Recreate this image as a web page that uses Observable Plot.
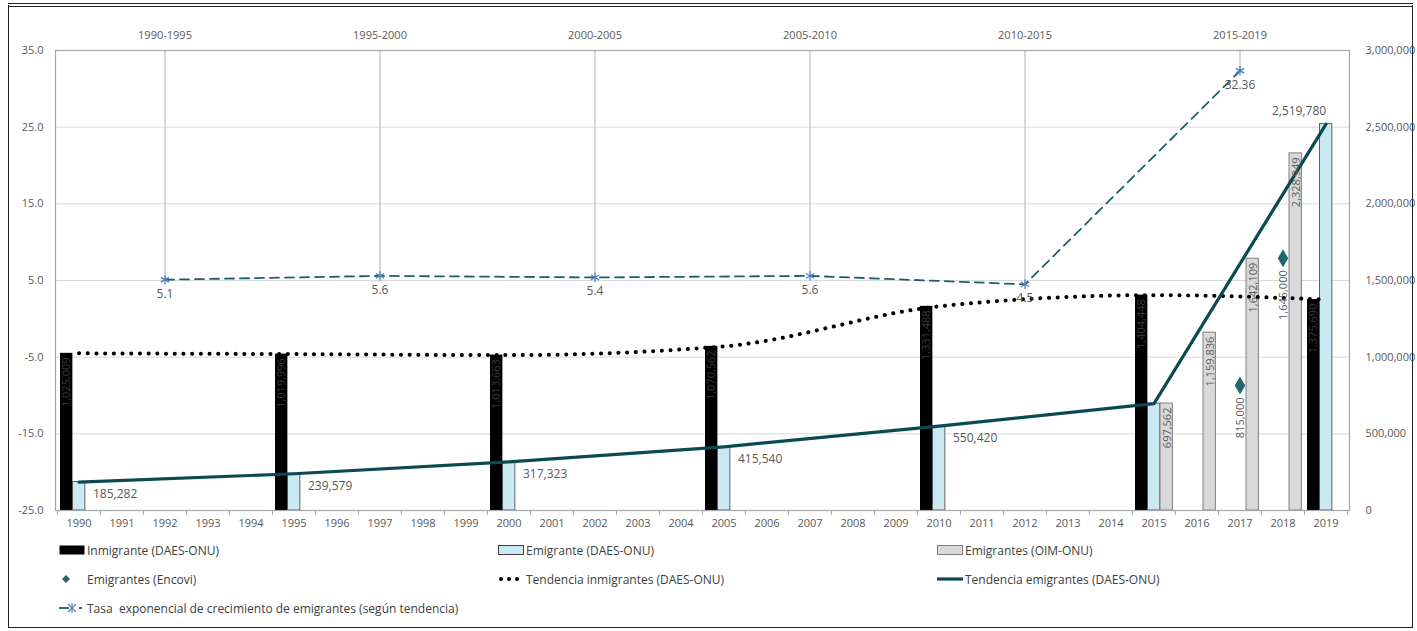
<!DOCTYPE html>
<html><head><meta charset="utf-8">
<script src="https://cdn.jsdelivr.net/npm/d3@7"></script>
<script src="https://cdn.jsdelivr.net/npm/@observablehq/plot@0.6"></script>
<style>
body{margin:0;background:#fff;font-family:"Open Sans",sans-serif;}
#wrap{position:relative;width:1417px;height:631px;overflow:hidden;background:#fff;}
#frame{position:absolute;left:8px;top:3px;width:1405px;height:625px;border:1.5px solid #222;border-top:4px double #222;box-sizing:border-box;pointer-events:none;}
#chart{position:absolute;left:0;top:0;}
.lg{position:absolute;font-size:12px;color:#404040;display:flex;align-items:center;white-space:nowrap;height:16px;}
.sw{display:inline-block;margin-right:2px;}
</style></head>
<body><div id="wrap"><div id="chart"></div><div id="legend"></div><div id="frame"></div></div>
<script>
// ---- data ----
const years = [1990,1991,1992,1993,1994,1995,1996,1997,1998,1999,2000,2001,2002,2003,2004,2005,2006,2007,2008,2009,2010,2011,2012,2013,2014,2015,2016,2017,2018,2019];
const inmYears = [1990,1995,2000,2005,2010,2015,2019];
const inmigrantes = [1025009,1019996,1013663,1070562,1331488,1404448,1375690];
const emiYears = [1990,1995,2000,2005,2010,2015,2019];
const emigrantes = [185282,239579,317323,415540,550420,697562,2519780];
const oimYears = [2015,2016,2017,2018];
const oim = [697562,1159836,1642109,2328949];
const encoviYears = [2017,2018];
const encovi = [815000,1645000];
const rateYears = [1992,1997,2002,2007,2012,2017];
const periods = ["1990-1995","1995-2000","2000-2005","2005-2010","2010-2015","2015-2019"];
const rates = [5.1,5.6,5.4,5.6,4.5,32.36];
const leftTicks = [-25,-15,-5,5,15,25,35];
const rightTickLabels = ["0","500,000","1,000,000","1,500,000","2,000,000","2,500,000","3,000,000"];
const legendItems = [
  ["Inmigrante (DAES-ONU)","Emigrante (DAES-ONU)","Emigrantes (OIM-ONU)"],
  ["Emigrantes (Encovi)","Tendencia inmigrantes (DAES-ONU)","Tendencia emigrantes (DAES-ONU)"],
  ["Tasa  exponencial de crecimiento de emigrantes (según tendencia)"]
];

// secondary (population) axis mapped onto the left (rate) scale
const POP_MAX = 3000000, L0 = -25, L1 = 35;
const toLeft = p => L0 + p / POP_MAX * (L1 - L0);
const fmt = d3.format(",");

const inm = inmYears.map((y,i)=>({year:y, v:inmigrantes[i]}));
const emi = emiYears.map((y,i)=>({year:y, v:emigrantes[i]}));
const oimD = oimYears.map((y,i)=>({year:y, v:oim[i]}));
const enc = encoviYears.map((y,i)=>({year:y, v:encovi[i]}));
const rate = rateYears.map((y,i)=>({year:y, v:rates[i], p:periods[i]}));
const periodOf = new Map(rate.map(d=>[d.year,d.p]));

const W = 1417, H = 540, ML = 55, MR = 68, MT = 50, MB = 30;
const bw = (W - ML - MR) / years.length;
const slot = bw * 0.29;

const gray = "#595959";
const plot = Plot.plot({
  width: W, height: H,
  marginLeft: ML, marginRight: MR, marginTop: MT, marginBottom: MB,
  style: {fontFamily: '"Open Sans", sans-serif', fontSize: "11px", color: gray, background: "transparent"},
  x: {type: "band", domain: years, paddingInner: 0, paddingOuter: 0, axis: null, label: null},
  y: {domain: [L0, L1], axis: null, label: null},
  marks: [
    Plot.ruleY([-15,-5,5,15,25], {stroke: "#d9d9d9", strokeWidth: 1}),
    Plot.ruleX(rate, {x: "year", y1: L1, y2: "v", stroke: "#bfbfbf", strokeWidth: 1.2}),
    // bars
    Plot.barY(inm, {x: "year", y1: L0, y2: d => toLeft(d.v), fill: "#000", insetLeft: 3, insetRight: bw - 3 - slot}),
    Plot.barY(emi, {x: "year", y1: L0, y2: d => toLeft(d.v), fill: "#cbe9f3", stroke: "#404040", strokeWidth: 0.8, insetLeft: 3 + slot, insetRight: bw - 3 - 2*slot}),
    Plot.barY(oimD, {x: "year", y1: L0, y2: d => toLeft(d.v), fill: "#d9d9d9", stroke: "#7f7f7f", strokeWidth: 1, insetLeft: 3 + 2*slot, insetRight: bw - 3 - 3*slot}),
    Plot.frame({stroke: "#a6a6a6", strokeWidth: 1.2}),
    // bottom tick marks between categories
    Plot.ruleX(years, {x: d => d, y1: L0, y2: L0, insetBottom: -5, dx: -bw/2, stroke: "#a6a6a6"}),
    Plot.ruleX([years[years.length-1]], {x: d => d, y1: L0, y2: L0, insetBottom: -5, dx: bw/2, stroke: "#a6a6a6"}),
    // trend lines
    Plot.line(inm, {x: "year", y: d => toLeft(d.v), stroke: "#000", strokeWidth: 4, strokeDasharray: "0.1,8.6", strokeLinecap: "round", curve: "monotone-x"}),
    Plot.line(emi, {x: "year", y: d => toLeft(d.v), stroke: "#0b4a52", strokeWidth: 3.2}),
    Plot.line(rate, {x: "year", y: "v", stroke: "#1d6168", strokeWidth: 1.8, strokeDasharray: "9,6"}),
    Plot.dot(rate, {x: "year", y: "v", symbol: "asterisk", r: 4.5, stroke: "#4f81bd", strokeWidth: 1.3}),
    Plot.dot(enc, {x: "year", y: d => toLeft(d.v), symbol: "diamond", r: 5.5, fill: "#24666e", stroke: "none"}),
    // labels
    Plot.text(inm, {x: "year", y: d => toLeft(d.v), text: d => fmt(d.v), rotate: -90, textAnchor: "end", dx: -slot - 0.5, dy: 4, fill: "#3a3a3a", fontSize: 11}),
    Plot.text(emi.filter(d => d.year <= 2010), {x: "year", y: d => toLeft(d.v), text: d => fmt(d.v), textAnchor: "start", dx: 14, dy: 12, fill: gray, fontSize: 12}),
    Plot.text(emi.filter(d => d.year === 2019), {x: "year", y: d => toLeft(d.v), text: d => fmt(d.v), textAnchor: "middle", dx: -27, dy: -13, fill: gray, fontSize: 12}),
    Plot.text(oimD, {x: "year", y: d => toLeft(d.v), text: d => fmt(d.v), rotate: -90, textAnchor: "end", dx: slot + 0.5, dy: 4, fill: gray, fontSize: 11}),
    Plot.text(enc, {x: "year", y: d => toLeft(d.v), text: d => fmt(d.v), rotate: -90, textAnchor: "end", dy: 12, fill: gray, fontSize: 11}),
    Plot.text(rate, {x: "year", y: "v", text: d => String(d.v), dy: 14, fill: gray, fontSize: 12}),
    // axes
    Plot.axisX(years, {anchor: "bottom", label: null, tickSize: 0, tickPadding: 9, tickFormat: d => String(d), fill: gray}),
    Plot.axisX(rateYears, {anchor: "top", label: null, tickSize: 0, tickPadding: 12, tickFormat: d => periodOf.get(d), fill: gray}),
    Plot.axisY(leftTicks, {anchor: "left", label: null, tickSize: 0, tickPadding: 12, tickFormat: d => d.toFixed(1), fill: gray}),
    Plot.axisY(leftTicks, {anchor: "right", label: null, tickSize: 0, tickPadding: 16, tickFormat: d => rightTickLabels[leftTicks.indexOf(d)], fill: gray})
  ]
});
document.getElementById("chart").appendChild(plot);

// ---- legend (HTML) ----
const swatches = [
  ['<svg class="sw" width="26" height="10"><rect x="0.5" y="0.5" width="25" height="9" fill="#000"/></svg>',
   '<svg class="sw" width="26" height="10"><rect x="0.5" y="0.5" width="25" height="9" fill="#cbe9f3" stroke="#404040"/></svg>',
   '<svg class="sw" width="26" height="10"><rect x="0.5" y="0.5" width="25" height="9" fill="#d9d9d9" stroke="#7f7f7f"/></svg>'],
  ['<svg class="sw" width="26" height="10"><path d="M7,1 L11,5 L7,9 L3,5Z" fill="#24666e"/></svg>',
   '<svg class="sw" width="26" height="10"><g fill="#000"><circle cx="3" cy="5" r="2"/><circle cx="11" cy="5" r="2"/><circle cx="19" cy="5" r="2"/></g></svg>',
   '<svg class="sw" width="26" height="10"><line x1="0" y1="5" x2="26" y2="5" stroke="#0b4a52" stroke-width="3.2"/></svg>'],
  ['<svg class="sw" width="26" height="10"><line x1="0" y1="5" x2="10" y2="5" stroke="#1d6168" stroke-width="1.8"/><g stroke="#4f81bd" stroke-width="1.2"><line x1="9" y1="1" x2="17" y2="9"/><line x1="17" y1="1" x2="9" y2="9"/><line x1="13" y1="0" x2="13" y2="10"/></g><line x1="20" y1="5" x2="23" y2="5" stroke="#1d6168" stroke-width="1.8"/></svg>']
];
const colX = [59, 498, 937];
const rowY = [542, 571, 600];
const lg = document.getElementById("legend");
legendItems.forEach((row, r) => row.forEach((label, c) => {
  const div = document.createElement("div");
  div.className = "lg";
  div.style.left = colX[c] + "px";
  div.style.top = rowY[r] + "px";
  div.innerHTML = swatches[r][c] + '<span style="white-space:pre">' + label + '</span>';
  lg.appendChild(div);
}));
</script>
</body></html>
